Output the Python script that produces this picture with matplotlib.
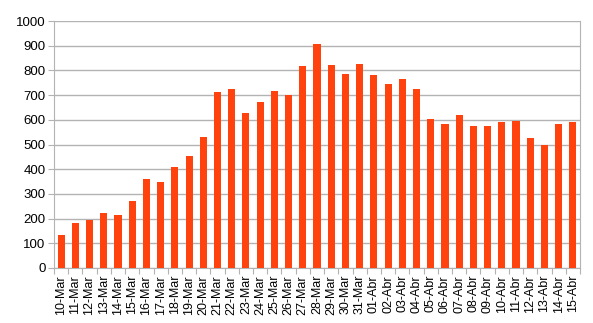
import matplotlib
matplotlib.use("Agg")
import matplotlib.pyplot as plt
import numpy as np

labels = ["10-Mar","11-Mar","12-Mar","13-Mar","14-Mar","15-Mar","16-Mar","17-Mar","18-Mar","19-Mar",
          "20-Mar","21-Mar","22-Mar","23-Mar","24-Mar","25-Mar","26-Mar","27-Mar","28-Mar","29-Mar",
          "30-Mar","31-Mar","01-Abr","02-Abr","03-Abr","04-Abr","05-Abr","06-Abr","07-Abr","08-Abr",
          "09-Abr","10-Abr","11-Abr","12-Abr","13-Abr","14-Abr","15-Abr"]
values = [133, 183, 193, 221, 213, 272, 359, 348, 410, 452,
          529, 711, 723, 627, 673, 715, 699, 816, 905, 823,
          787, 827, 783, 745, 764, 725, 605, 582, 621, 574,
          576, 591, 595, 526, 498, 584, 591]
yticks = [0, 100, 200, 300, 400, 500, 600, 700, 800, 900, 1000]

plt.rcParams['font.family'] = ['Liberation Sans', 'DejaVu Sans']
fig = plt.figure(figsize=(5.93, 3.23), dpi=100)
ax = fig.add_axes([54/593, (323-268)/323, (580-54)/593, (268-21)/323])

x = np.arange(len(values))
ax.bar(x, values, width=0.5, color="#FF420E", zorder=3)
ax.set_xlim(-0.5, len(values) - 0.5)
ax.set_ylim(0, 1000)
ax.set_yticks(yticks)
ax.tick_params(axis='y', labelsize=9.5, length=4, color="#b3b3b3", pad=2)
ax.yaxis.grid(True, color="#b3b3b3", linewidth=1, zorder=0)

ax.set_xticks(np.arange(len(values) + 1) - 0.5)
ax.set_xticklabels([])
ax.tick_params(axis='x', which='major', length=4, color="#b3b3b3")
ax.set_xticks(x, minor=True)
ax.set_xticklabels(labels, minor=True, rotation=90, fontsize=9)
ax.tick_params(axis='x', which='minor', length=0, pad=5)

for s in ['left', 'right', 'bottom', 'top']:
    ax.spines[s].set_color("#b3b3b3")
ax.spines['top'].set_visible(False)

fig.savefig("out.png", dpi=100)
